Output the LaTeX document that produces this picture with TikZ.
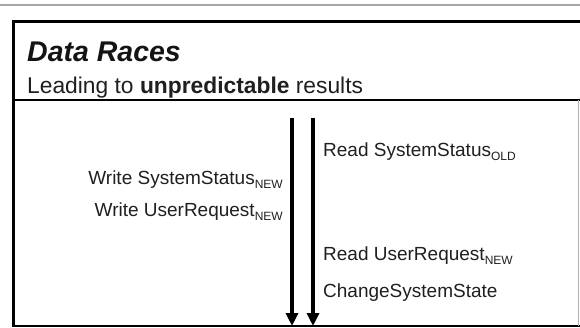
\documentclass[tikz,border=0pt]{standalone}
\usepackage{fontspec}
\setmainfont{Liberation Sans}
\usetikzlibrary{arrows.meta}
\tikzset{
  lbl/.style={inner sep=0pt, font=\fontsize{19}{22}\selectfont, text=black!88},
  timeline/.style={line width=4pt, -{Triangle[width=12pt,length=13pt]}},
  frameline/.style={line width=3pt, black},
}
\newcommand{\subtxt}[1]{\raisebox{-4pt}{\fontsize{12}{12}\selectfont #1}}
\begin{document}
\begin{tikzpicture}[x=1pt,y=-1pt]
\useasboundingbox (0,0) rectangle (580,328);
% top thin gray rule
\draw[gray!70, line width=1.5pt] (0,5) -- (580,5);
% frame
\draw[frameline] (13,22) -- (580,22);
\draw[frameline] (13,20.5) -- (13,327);
\draw[line width=2.5pt] (13,100) -- (580,100);
\draw[line width=2pt] (13,326) -- (580,326);
\draw[line width=1pt, gray!60] (578.5,100) -- (578.5,326);
% title
\node[inner sep=0pt, anchor=base west, font=\fontsize{28.5}{32}\selectfont\bfseries\itshape, text=black!92] (title) at (27,62) {Data Races};
\node[inner sep=0pt, anchor=base west, font=\fontsize{22.8}{26}\selectfont, text=black!88] (subtitle) at (27,94) {Leading to \textbf{unpredictable} results};
% timelines
\coordinate (t1s) at (292,118);
\coordinate (t1e) at (292,326);
\coordinate (t2s) at (313,118);
\coordinate (t2e) at (313,326);
\draw[timeline] (t1s) -- (t1e);
\draw[timeline] (t2s) -- (t2e);
% left thread
\node[lbl, anchor=base east] (w1) at (283,185) {Write SystemStatus\subtxt{NEW}};
\node[lbl, anchor=base east] (w2) at (283,217) {Write UserRequest\subtxt{NEW}};
% right thread
\node[lbl, anchor=base west] (r1) at (323,157) {Read SystemStatus\subtxt{OLD}};
\node[lbl, anchor=base west] (r2) at (323,261) {Read UserRequest\subtxt{NEW}};
\node[lbl, anchor=base west] (r3) at (323,297) {ChangeSystemState};
\end{tikzpicture}
\end{document}
